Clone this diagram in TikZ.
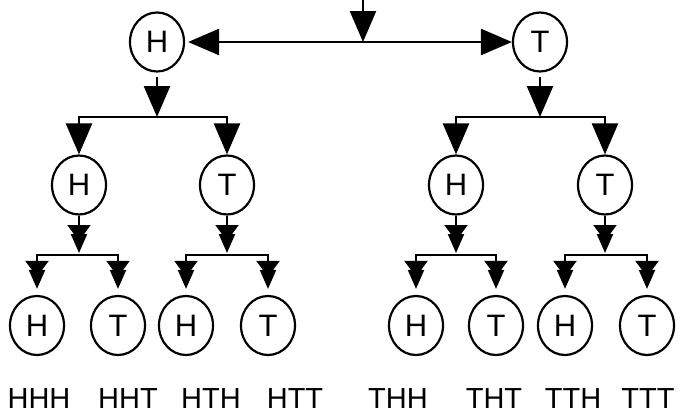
\documentclass[tikz,border=0pt]{standalone}
\usepackage{fontspec}
\setmainfont{Liberation Sans}
\usetikzlibrary{shapes.geometric,arrows.meta}
\tikzset{
  coin/.style={ellipse,draw,line width=2.2pt,minimum width=54pt,minimum height=59pt,inner sep=0pt,
    font=\fontsize{31}{34}\selectfont},
  outcome/.style={font=\fontsize{29}{32}\selectfont,inner sep=0pt},
  bigtip/.tip={Triangle[width=26pt 0,length=31pt 0]},
  dbltip/.tip={Triangle[width=23pt 0,length=16pt 0,sep=-7pt 0]Triangle[width=16pt 0,length=19pt 0]},
  mainline/.style={line width=2.6pt},
  subline/.style={line width=2.2pt}
}
\begin{document}
\begin{tikzpicture}[x=1pt,y=-1pt]
\useasboundingbox (0,0) rectangle (678,415);
% level 1
\coordinate (start) at (363,0);
\coordinate (j0) at (363,42);
\node[coin] (h1) at (157,42) {H};
\node[coin] (t1) at (540,42) {T};
\draw[mainline,-bigtip] (start) -- (j0);
\draw[mainline,-bigtip,shorten >=3pt] (j0) -- (h1);
\draw[mainline,-bigtip] (j0) -- (t1);
% level 2
\node[coin] (hh) at (79,185) {H};
\node[coin] (ht) at (227,185) {T};
\node[coin] (th) at (456,185) {H};
\node[coin] (tt) at (605,185) {T};
\coordinate (b1) at (157,117);
\coordinate (b2) at (540,117);
\draw[mainline,-bigtip,shorten <=4pt] (h1) -- (b1);
\draw[mainline,-bigtip,shorten <=4pt] (t1) -- (b2);
\draw[mainline,bigtip-bigtip] (hh) |- (b1) -| (ht);
\draw[mainline,bigtip-bigtip] (th) |- (b2) -| (tt);
% level 3
\node[coin] (hhh) at (37,325.5) {H};
\node[coin] (hht) at (118,325.5) {T};
\node[coin] (hth) at (186,325.5) {H};
\node[coin] (htt) at (268,325.5) {T};
\node[coin] (thh) at (416,325.5) {H};
\node[coin] (tht) at (496,325.5) {T};
\node[coin] (tth) at (565,325.5) {H};
\node[coin] (ttt) at (647,325.5) {T};
\coordinate (c1) at (79,255);
\coordinate (c2) at (227,255);
\coordinate (c3) at (456,255);
\coordinate (c4) at (605,255);
\draw[subline,-dbltip,shorten >=2pt] (hh) -- (c1);
\draw[subline,-dbltip,shorten >=2pt] (ht) -- (c2);
\draw[subline,-dbltip,shorten >=2pt] (th) -- (c3);
\draw[subline,-dbltip,shorten >=2pt] (tt) -- (c4);
\draw[subline,dbltip-dbltip,shorten <=6pt,shorten >=6pt] (hhh) |- (c1) -| (hht);
\draw[subline,dbltip-dbltip,shorten <=6pt,shorten >=6pt] (hth) |- (c2) -| (htt);
\draw[subline,dbltip-dbltip,shorten <=6pt,shorten >=6pt] (thh) |- (c3) -| (tht);
\draw[subline,dbltip-dbltip,shorten <=6pt,shorten >=6pt] (tth) |- (c4) -| (ttt);
% outcomes
\node[outcome] (o1) at (39,398.5) {HHH};
\node[outcome] (o2) at (128,398.5) {HHT};
\node[outcome] (o3) at (211,398.5) {HTH};
\node[outcome] (o4) at (295,398.5) {HTT};
\node[outcome] (o5) at (398,398.5) {THH};
\node[outcome] (o6) at (494,398.5) {THT};
\node[outcome] (o7) at (573,398.5) {TTH};
\node[outcome] (o8) at (648,398.5) {TTT};
\end{tikzpicture}
\end{document}
